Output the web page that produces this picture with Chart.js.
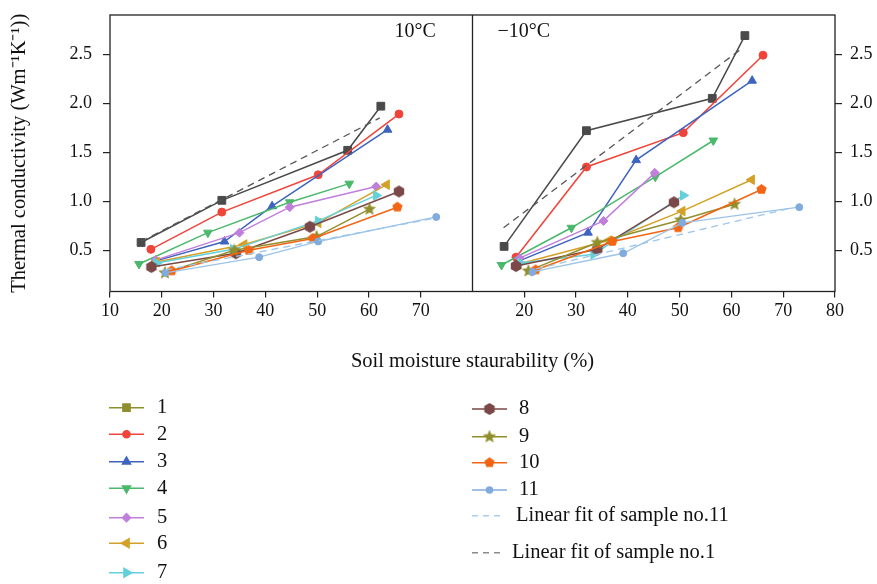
<!DOCTYPE html>
<html>
<head>
<meta charset="utf-8">
<script src="https://cdn.jsdelivr.net/npm/chart.js@4.4.1/dist/chart.umd.min.js"></script>
<style>
html, body { margin: 0; padding: 0; background: #fff; }
#chart { display: block; }
</style>
</head>
<body>
<canvas id="chart" width="877" height="584"></canvas>
<script>
const sampleLabels = ['1', '2', '3', '4', '5', '6', '7', '8', '9', '10', '11'];

// 10 °C panel: saturation (%) and thermal conductivity, one row per sample
const warmSat = [
    [16.0, 31.6, 55.9, 62.3],
    [17.9, 31.6, 50.2, 65.8],
    [18.7, 32.1, 41.3, 63.6],
    [15.6, 28.9, 44.7, 56.2],
    [18.8, 35.0, 44.7, 61.4],
    [19.0, 35.9, 50.2, 63.4],
    [19.0, 33.8, 50.2, 61.4],
    [18.0, 34.3, 48.6, 65.8],
    [20.6, 34.0, 49.9, 60.1],
    [21.9, 36.8, 49.2, 65.5],
    [20.7, 38.8, 50.2, 73.0],
];
const warmK = [
    [0.58, 1.01, 1.52, 1.97],
    [0.51, 0.89, 1.27, 1.89],
    [0.39, 0.59, 0.95, 1.73],
    [0.36, 0.68, 0.99, 1.18],
    [0.40, 0.68, 0.94, 1.15],
    [0.38, 0.56, 0.78, 1.17],
    [0.37, 0.51, 0.80, 1.06],
    [0.33, 0.47, 0.74, 1.10],
    [0.27, 0.50, 0.64, 0.92],
    [0.29, 0.50, 0.62, 0.94],
    [0.27, 0.43, 0.59, 0.84],
];

// -10 °C panel
const coldSat = [
    [16.1, 32.0, 56.3, 62.6],
    [18.4, 32.0, 50.7, 66.1],
    [18.9, 32.3, 41.6, 64.0],
    [15.6, 29.1, 45.3, 56.5],
    [19.1, 35.3, 45.2],
    [18.9, 36.3, 50.5, 63.9],
    [19.3, 33.4, 50.7],
    [18.4, 34.1, 48.9],
    [20.8, 34.1, 50.2, 60.6],
    [22.2, 37.0, 49.7, 65.8],
    [21.6, 39.1, 50.5, 73.1],
];
const coldK = [
    [0.54, 1.72, 2.05, 2.69],
    [0.43, 1.35, 1.70, 2.49],
    [0.39, 0.68, 1.42, 2.23],
    [0.35, 0.73, 1.25, 1.62],
    [0.42, 0.80, 1.29],
    [0.36, 0.60, 0.90, 1.22],
    [0.37, 0.46, 1.06],
    [0.34, 0.51, 0.99],
    [0.29, 0.58, 0.81, 0.97],
    [0.30, 0.59, 0.73, 1.12],
    [0.28, 0.47, 0.78, 0.94],
];

const fitLabels = ['Linear fit of sample no.11', 'Linear fit of sample no.1'];
const warmFit11Sat = [20.7, 73.0];
const warmFit11K = [0.30, 0.83];
const warmFit1Sat = [16.0, 62.1];
const warmFit1K = [0.59, 1.85];
const coldFit11Sat = [22.3, 71.4];
const coldFit11K = [0.31, 0.93];
const coldFit1Sat = [16.0, 62.3];
const coldFit1K = [0.73, 2.57];

const satTicks = [10, 20, 30, 40, 50, 60, 70, 80];
const kTicks = [0.5, 1.0, 1.5, 2.0, 2.5];
const panelLabels = ['10\u00B0C', '\u221210\u00B0C'];

// the -10 °C panel sits to the right of the 10 °C one on one shared axis
const PANEL_SPAN = 70;
const X_MIN = 10;
const X_MAX = X_MIN + 2 * PANEL_SPAN;
const K_MIN = 0.08;
const K_MAX = 2.9;

const FONT = "'Liberation Serif', 'Times New Roman', serif";

const colors = ['#4a4a4a', '#f0443a', '#3e64bf', '#4bb86b', '#c17fdc', '#d4a128',
    '#64d0d9', '#7a4848', '#918f2c', '#f26515', '#80abdc'];
const legendColors = colors.slice();
legendColors[0] = '#8f8e2c';

function polygonMarker(color, points, r, inner) {
    const size = Math.ceil(r * 2 + 2);
    const c = document.createElement('canvas');
    c.width = size;
    c.height = size;
    const g = c.getContext('2d');
    const n = inner ? points * 2 : points;
    g.fillStyle = color;
    g.beginPath();
    for (let i = 0; i < n; i++) {
        const a = -Math.PI / 2 + (i * Math.PI * 2) / n;
        const rr = inner && i % 2 ? r * inner : r;
        g.lineTo(size / 2 + rr * Math.cos(a), size / 2 + rr * Math.sin(a));
    }
    g.closePath();
    g.fill();
    return c;
}

function markerFor(i, color) {
    switch (i) {
        case 0: return { style: 'rect', rotation: 0, radius: 5.5 };
        case 1: return { style: 'circle', rotation: 0, radius: 4 };
        case 2: return { style: 'triangle', rotation: 0, radius: 5 };
        case 3: return { style: 'triangle', rotation: 180, radius: 5 };
        case 4: return { style: 'rectRot', rotation: 0, radius: 4.5 };
        case 5: return { style: 'triangle', rotation: -90, radius: 5.5 };
        case 6: return { style: 'triangle', rotation: 90, radius: 5.5 };
        case 7: return { style: polygonMarker(color, 6, 6), rotation: 0, radius: 6 };
        case 8: return { style: polygonMarker(color, 5, 7, 0.45), rotation: 0, radius: 7 };
        case 9: return { style: polygonMarker(color, 5, 5.4), rotation: 0, radius: 5.4 };
        default: return { style: 'circle', rotation: 0, radius: 3.5 };
    }
}

function toPoints(xs, ys, shift) {
    return xs.map((x, j) => ({ x: x + shift, y: ys[j] }));
}

function sampleDataset(i, xs, ys, shift) {
    const m = markerFor(i, colors[i]);
    return {
        label: sampleLabels[i],
        data: toPoints(xs, ys, shift),
        borderColor: i === 10 ? '#9cc4e8' : colors[i],
        backgroundColor: colors[i],
        pointBorderColor: colors[i],
        borderWidth: i === 10 ? 1.3 : 1.5,
        pointStyle: m.style,
        pointRotation: m.rotation,
        pointRadius: m.radius,
        pointBorderWidth: 1,
        pointHoverRadius: m.radius,
        tension: 0,
        fill: false,
    };
}

function fitDataset(label, xs, ys, shift, color) {
    return {
        label: label,
        data: toPoints(xs, ys, shift),
        borderColor: color,
        borderWidth: 1.3,
        borderDash: [7, 5],
        pointRadius: 0,
        tension: 0,
        fill: false,
    };
}

const datasets = [];
datasets.push(fitDataset(fitLabels[1], warmFit1Sat, warmFit1K, 0, '#555555'));
datasets.push(fitDataset(fitLabels[1], coldFit1Sat, coldFit1K, PANEL_SPAN, '#555555'));
datasets.push(fitDataset(fitLabels[0], warmFit11Sat, warmFit11K, 0, '#9cc6ea'));
datasets.push(fitDataset(fitLabels[0], coldFit11Sat, coldFit11K, PANEL_SPAN, '#9cc6ea'));
for (let i = sampleLabels.length - 1; i >= 0; i--) {
    datasets.push(sampleDataset(i, warmSat[i], warmK[i], 0));
    datasets.push(sampleDataset(i, coldSat[i], coldK[i], PANEL_SPAN));
}

function satLabel(v) {
    if (v === X_MIN + PANEL_SPAN) return '';
    const s = v > X_MIN + PANEL_SPAN ? v - PANEL_SPAN : v;
    return satTicks.includes(s) ? String(s) : '';
}

function drawMarker(ctx, i, x, y) {
    const m = markerFor(i, legendColors[i]);
    const opts = { pointStyle: m.style, rotation: m.rotation, radius: m.radius - 0.5, borderWidth: 1 };
    ctx.fillStyle = legendColors[i];
    ctx.strokeStyle = legendColors[i];
    if (Chart.helpers && Chart.helpers.drawPoint) {
        Chart.helpers.drawPoint(ctx, opts, x, y);
    } else {
        ctx.beginPath();
        ctx.arc(x, y, 4, 0, Math.PI * 2);
        ctx.fill();
    }
}

const framePlugin = {
    id: 'frame',
    afterDatasetsDraw(chart) {
        const { ctx, chartArea: a, scales } = chart;
        const mid = scales.x.getPixelForValue(X_MIN + PANEL_SPAN);
        ctx.save();
        ctx.strokeStyle = '#222';
        ctx.lineWidth = 1.3;
        ctx.strokeRect(a.left, a.top, a.right - a.left, a.bottom - a.top);
        ctx.beginPath();
        ctx.moveTo(mid, a.top);
        ctx.lineTo(mid, a.bottom);
        ctx.stroke();
        ctx.fillStyle = '#111';
        ctx.font = '20px ' + FONT;
        ctx.textBaseline = 'alphabetic';
        ctx.textAlign = 'left';
        ctx.fillText(panelLabels[0], mid - 78, a.top + 22);
        ctx.fillText(panelLabels[1], mid + 25, a.top + 22);
        ctx.restore();
    },
};

const legendPlugin = {
    id: 'twoColumnLegend',
    afterDraw(chart) {
        const ctx = chart.ctx;
        const col1 = [407.7, 434.3, 461.7, 488.3, 517.7, 543.3, 572.7];
        const col2 = [409, 436.7, 462.7, 490, 515.7, 552.7];
        ctx.save();
        ctx.font = '20.5px ' + FONT;
        ctx.textBaseline = 'middle';
        ctx.textAlign = 'left';
        ctx.lineWidth = 1.6;
        const entry = (i, y, x0, x1, tx) => {
            ctx.strokeStyle = legendColors[i];
            ctx.setLineDash([]);
            ctx.beginPath();
            ctx.moveTo(x0, y);
            ctx.lineTo(x1, y);
            ctx.stroke();
            drawMarker(ctx, i, (x0 + x1) / 2, y);
            ctx.fillStyle = '#111';
            ctx.fillText(sampleLabels[i], tx, y);
        };
        for (let i = 0; i < 7; i++) entry(i, col1[i], 109, 144, 157);
        for (let i = 7; i < 11; i++) entry(i, col2[i - 7], 472, 507, 519);
        const fits = [['#a8cdee', 516], ['#8a8a8a', 512]];
        fits.forEach((f, k) => {
            const y = col2[4 + k];
            ctx.strokeStyle = f[0];
            ctx.setLineDash([6, 5]);
            ctx.beginPath();
            ctx.moveTo(472, y);
            ctx.lineTo(502, y);
            ctx.stroke();
            ctx.setLineDash([]);
            ctx.fillStyle = '#111';
            ctx.fillText(fitLabels[k], f[1], y);
        });
        ctx.restore();
    },
};

const tickFont = { family: FONT, size: 18 };
const titleFont = { family: FONT, size: 20.5 };

function fitVertical(width) {
    return (s) => {
        s.width = width;
        s.paddingTop = 0;
        s.paddingBottom = 0;
    };
}

new Chart(document.getElementById('chart').getContext('2d'), {
    type: 'line',
    data: { datasets: datasets },
    options: {
        responsive: false,
        animation: false,
        devicePixelRatio: 1,
        layout: { padding: { top: 15, bottom: 210.5, left: 0, right: 0 } },
        plugins: {
            legend: { display: false },
            tooltip: { enabled: false },
        },
        scales: {
            x: {
                type: 'linear',
                min: X_MIN,
                max: X_MAX,
                afterFit: (s) => {
                    s.height = 82;
                    s.paddingLeft = 0;
                    s.paddingRight = 0;
                },
                afterBuildTicks: (s) => {
                    const t = [];
                    for (let v = X_MIN; v <= X_MAX; v += 10) t.push({ value: v });
                    s.ticks = t;
                },
                border: { display: false },
                grid: {
                    drawOnChartArea: false,
                    drawTicks: true,
                    tickLength: 6,
                    lineWidth: 1.2,
                    color: (c) => (c.tick && c.tick.value === X_MIN + PANEL_SPAN ? 'rgba(0,0,0,0)' : '#222'),
                },
                ticks: {
                    autoSkip: false,
                    maxRotation: 0,
                    padding: 3,
                    color: '#111',
                    font: tickFont,
                    callback: (v) => satLabel(v),
                },
                title: {
                    display: true,
                    text: 'Soil moisture staurability (%)',
                    color: '#111',
                    font: titleFont,
                    padding: { top: 0, bottom: 0 },
                },
            },
            y: {
                type: 'linear',
                position: 'left',
                min: K_MIN,
                max: K_MAX,
                afterFit: fitVertical(110),
                afterBuildTicks: (s) => { s.ticks = kTicks.map((v) => ({ value: v })); },
                border: { display: false },
                grid: { drawOnChartArea: false, tickLength: 7, lineWidth: 1.2, color: '#222' },
                ticks: {
                    padding: 11,
                    color: '#111',
                    font: tickFont,
                    callback: (v) => v.toFixed(1),
                },
                title: {
                    display: true,
                    text: 'Thermal conductivity (Wm\u207B\u00B9K\u207B\u00B9))',
                    color: '#111',
                    font: titleFont,
                    padding: { top: 7, bottom: 0 },
                },
            },
            y2: {
                type: 'linear',
                position: 'right',
                min: K_MIN,
                max: K_MAX,
                afterFit: fitVertical(42),
                afterBuildTicks: (s) => { s.ticks = kTicks.map((v) => ({ value: v })); },
                border: { display: false },
                grid: { drawOnChartArea: false, tickLength: 7, lineWidth: 1.2, color: '#222' },
                ticks: {
                    padding: 8,
                    color: '#111',
                    font: tickFont,
                    callback: (v) => v.toFixed(1),
                },
            },
        },
    },
    plugins: [framePlugin, legendPlugin],
});
</script>
</body>
</html>
